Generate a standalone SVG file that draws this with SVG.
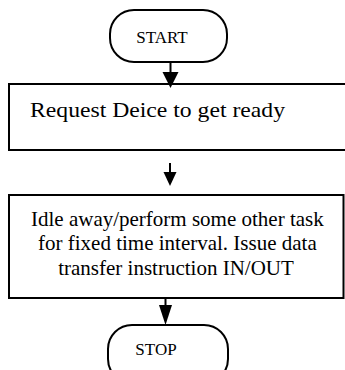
<svg xmlns="http://www.w3.org/2000/svg" width="345" height="370" viewBox="0 0 345 370">
<defs>
<style>
.box{fill:#fff;stroke:#000;stroke-width:2}
.t{font-family:"Liberation Serif","Times New Roman",serif;fill:#000}
.c{stroke:#000;stroke-width:2;fill:none}
.h{fill:#000;stroke:none}
</style>
</defs>
<rect width="345" height="370" fill="#fff"/>
<g id="start">
<rect class="box" x="110" y="10" width="117" height="52" rx="24" ry="24"/>
<text class="t" x="162" y="43" font-size="17" text-anchor="middle">START</text>
</g>
<g id="request">
<rect class="box" x="9" y="84" width="345" height="66"/>
<text class="t" x="30" y="117" font-size="22" textLength="255" lengthAdjust="spacingAndGlyphs">Request Deice to get ready</text>
</g>
<g id="idle">
<rect class="box" x="9" y="195" width="334.5" height="103"/>
<text class="t" font-size="21" text-anchor="middle">
<tspan x="180" y="225.5">Idle away/perform some other task</tspan>
<tspan x="180" y="250">for fixed time interval. Issue data</tspan>
<tspan x="176" y="275">transfer instruction IN/OUT</tspan>
</text>
</g>
<g id="stop">
<rect class="box" x="108" y="325" width="120" height="58" rx="24" ry="24"/>
<text class="t" x="156" y="355" font-size="17" text-anchor="middle">STOP</text>
</g>
<g id="connectors">
<line class="c" x1="170.5" y1="62" x2="170.5" y2="74"/>
<polygon class="h" points="162.5,72 178.5,72 170.5,88"/>
<line class="c" x1="170" y1="163" x2="170" y2="174"/>
<polygon class="h" points="163.5,172 176.5,172 170,186"/>
<line class="c" x1="165.5" y1="298" x2="165.5" y2="307"/>
<polygon class="h" points="159,305 172,305 165.5,325"/>
</g>
</svg>
